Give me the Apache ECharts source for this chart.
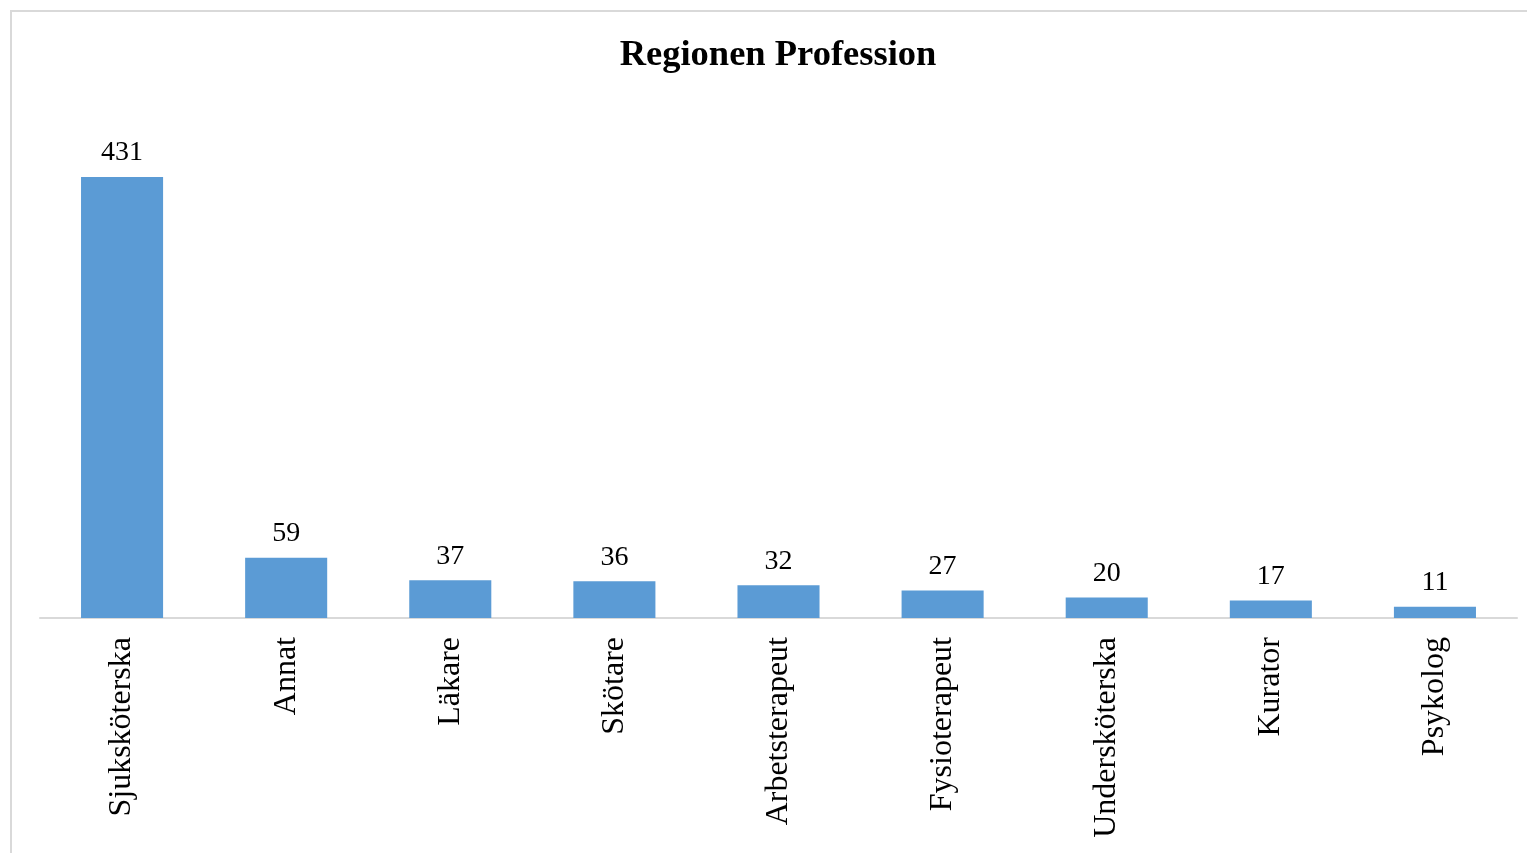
<!DOCTYPE html>
<html>
<head>
<meta charset="utf-8">
<style>
  html, body { margin: 0; padding: 0; background: #ffffff; }
  #chart { width: 1527px; height: 853px; }
  .frame {
    position: absolute;
    left: 10px;
    top: 10px;
    width: 1530px;
    height: 860px;
    border: 2px solid #d9d9d9;
    pointer-events: none;
  }
</style>
<script src="https://cdn.jsdelivr.net/npm/echarts@6/dist/echarts.min.js"></script>
</head>
<body>
<div id="chart"></div>
<div class="frame"></div>
<script>
  const categories = ["Sjuksköterska", "Annat", "Läkare", "Skötare", "Arbetsterapeut",
    "Fysioterapeut", "Undersköterska", "Kurator", "Psykolog"];
  const values = [431, 59, 37, 36, 32, 27, 20, 17, 11];

  const chart = echarts.init(document.getElementById("chart"));
  const font = "'Liberation Serif', 'Times New Roman', serif";

  const option = {
    animation: false,
    title: {
      text: "Regionen Profession",
      left: 773,
      textAlign: "center",
      top: 32,
      textStyle: {
        fontFamily: font,
        fontSize: 36.5,
        fontWeight: "bold",
        color: "#000000",
      },
    },
    grid: {
      left: 40,
      right: 10,
      top: 157.6,
      bottom: 235,
    },
    xAxis: {
      type: "category",
      data: categories,
      axisLine: { lineStyle: { color: "#d9d9d9", width: 2 } },
      axisTick: { show: false },
      axisLabel: {
        rotate: 90,
        margin: 19,
        interval: 0,
        fontFamily: font,
        fontSize: 32,
        color: "#000000",
      },
    },
    yAxis: {
      type: "value",
      min: 0,
      max: 450,
      show: false,
      splitLine: { show: false },
    },
    series: [
      {
        type: "bar",
        data: values,
        barCategoryGap: "50%",
        itemStyle: { color: "#5b9bd5" },
        label: {
          show: true,
          position: "top",
          distance: 10,
          fontFamily: font,
          fontSize: 28,
          color: "#000000",
        },
      },
    ],
  };

  chart.setOption(option);
</script>
</body>
</html>
